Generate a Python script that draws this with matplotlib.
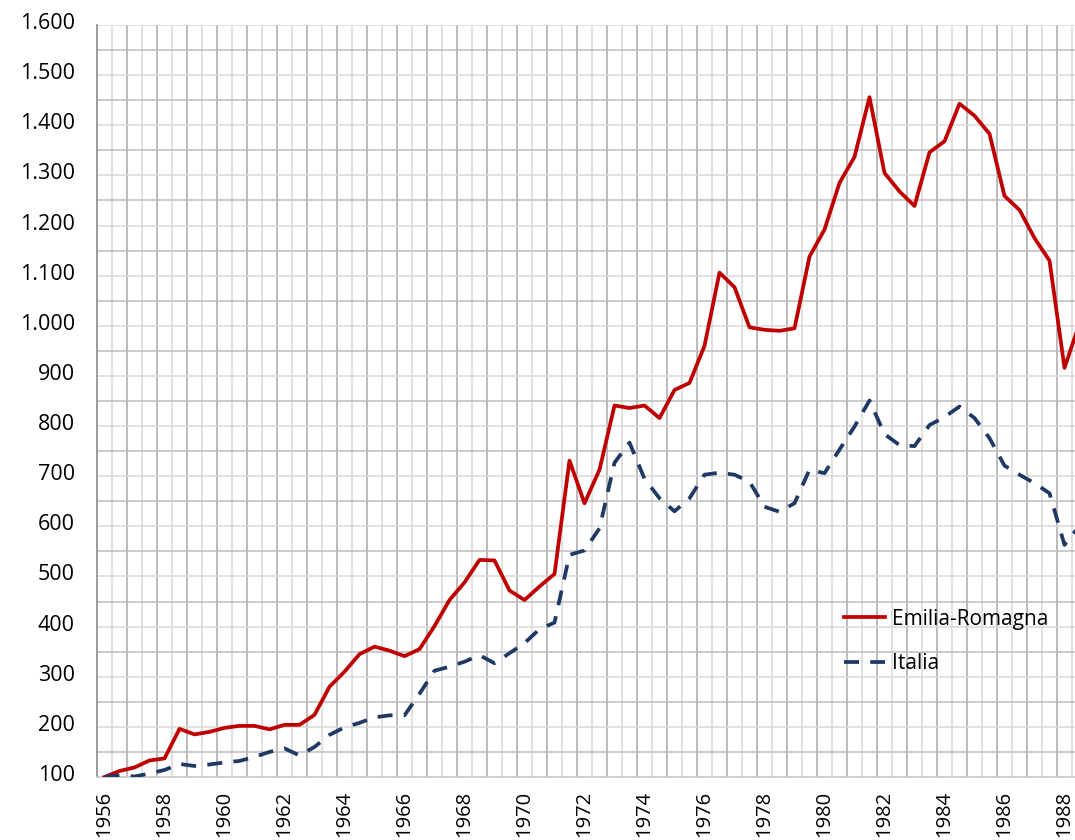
import numpy as np
import matplotlib
matplotlib.use("Agg")
import matplotlib.pyplot as plt
import matplotlib.transforms as mtransforms

# -------------------- Data (semiannual index, 1956 = 100) --------------------
emilia = [100, 112, 119, 133, 137, 196, 185, 190, 198, 202,
          202, 195, 204, 204, 224, 280, 310, 345, 360, 352,
          341, 355, 401, 453, 488, 533, 532, 472, 453, 480,
          505, 731, 646, 713, 841, 836, 841, 816, 872, 886,
          960, 1106, 1077, 997, 992, 990, 995, 1138, 1192, 1285,
          1337, 1456, 1305, 1268, 1239, 1346, 1368, 1443, 1419, 1383,
          1259, 1231, 1175, 1130, 916, 1005]
italia = [100, 103, 101, 107, 114, 126, 122, 125, 129, 132,
          140, 150, 157, 143, 160, 184, 199, 208, 219, 223,
          223, 266, 312, 320, 330, 343, 327, 347, 367, 395,
          408, 543, 552, 596, 727, 767, 695, 656, 630, 656,
          703, 707, 703, 689, 639, 629, 646, 713, 706, 753,
          799, 851, 784, 762, 760, 802, 818, 839, 816, 776,
          721, 703, 686, 666, 563, 601]
tick_years = list(range(1956, 1989, 2))
y_ticks = list(range(100, 1601, 100))

periods = np.arange(len(emilia))

plt.rcParams['font.family'] = ['Open Sans', 'DejaVu Sans']

fig = plt.figure(figsize=(10.75, 8.4), dpi=100)
ax = fig.add_axes([97 / 1075, (840 - 777) / 840, 1 - 97 / 1075, (777 - 25) / 840])

# -------------------- Grid --------------------
for k, b in enumerate(np.arange(0.5, 66, 1)):
    ax.axvline(b, color="#a8a8a8" if k % 2 == 1 else "#d9d9d9", lw=1.1, zorder=0)
for v in range(150, 1601, 50):
    ax.axhline(v, color="#bdbdbd" if v % 100 == 50 else "#d9d9d9", lw=1.1, zorder=0)

# -------------------- Lines --------------------
ax.plot(periods, emilia, color="#c00000", lw=2.7, label="Emilia-Romagna",
        solid_joinstyle="round", zorder=3)
ln, = ax.plot(periods, italia, color="#1f3864", lw=2.7, label="Italia",
              dash_capstyle="butt", zorder=3)
ln.set_dashes([4, 3])

ax.set_xlim(-0.5, -0.5 + 978 / 15)
ax.set_ylim(100, 1600)

ax.set_xticks([(y - 1956) * 2 for y in tick_years])
ax.set_xticklabels([str(y) for y in tick_years], rotation=90, fontsize=14.5)
ax.set_yticks(y_ticks)
ax.set_yticklabels([f"{v:,}".replace(",", ".") for v in y_ticks], fontsize=15.5)
ax.tick_params(axis="both", length=0, colors="black")
ax.tick_params(axis="y", pad=16)
ax.tick_params(axis="x", pad=10)

offset = mtransforms.ScaledTranslation(0, 4 / 100, fig.dpi_scale_trans)
for lab in ax.get_yticklabels():
    lab.set_transform(lab.get_transform() + offset)

for s in ["top", "right"]:
    ax.spines[s].set_visible(False)
ax.spines["left"].set_color("#8c8c8c")
ax.spines["left"].set_linewidth(1.2)
ax.spines["bottom"].set_color("#c8c8c8")
ax.spines["bottom"].set_linewidth(1.2)

leg = ax.legend(loc="upper left", bbox_to_anchor=(844 / 1075, (840 - 608.5) / 840),
                bbox_transform=fig.transFigure, frameon=False, fontsize=15,
                handlelength=1.97, handletextpad=0.32, labelspacing=1.15,
                borderpad=0, borderaxespad=0)

fig.savefig("out.png", dpi=100)
